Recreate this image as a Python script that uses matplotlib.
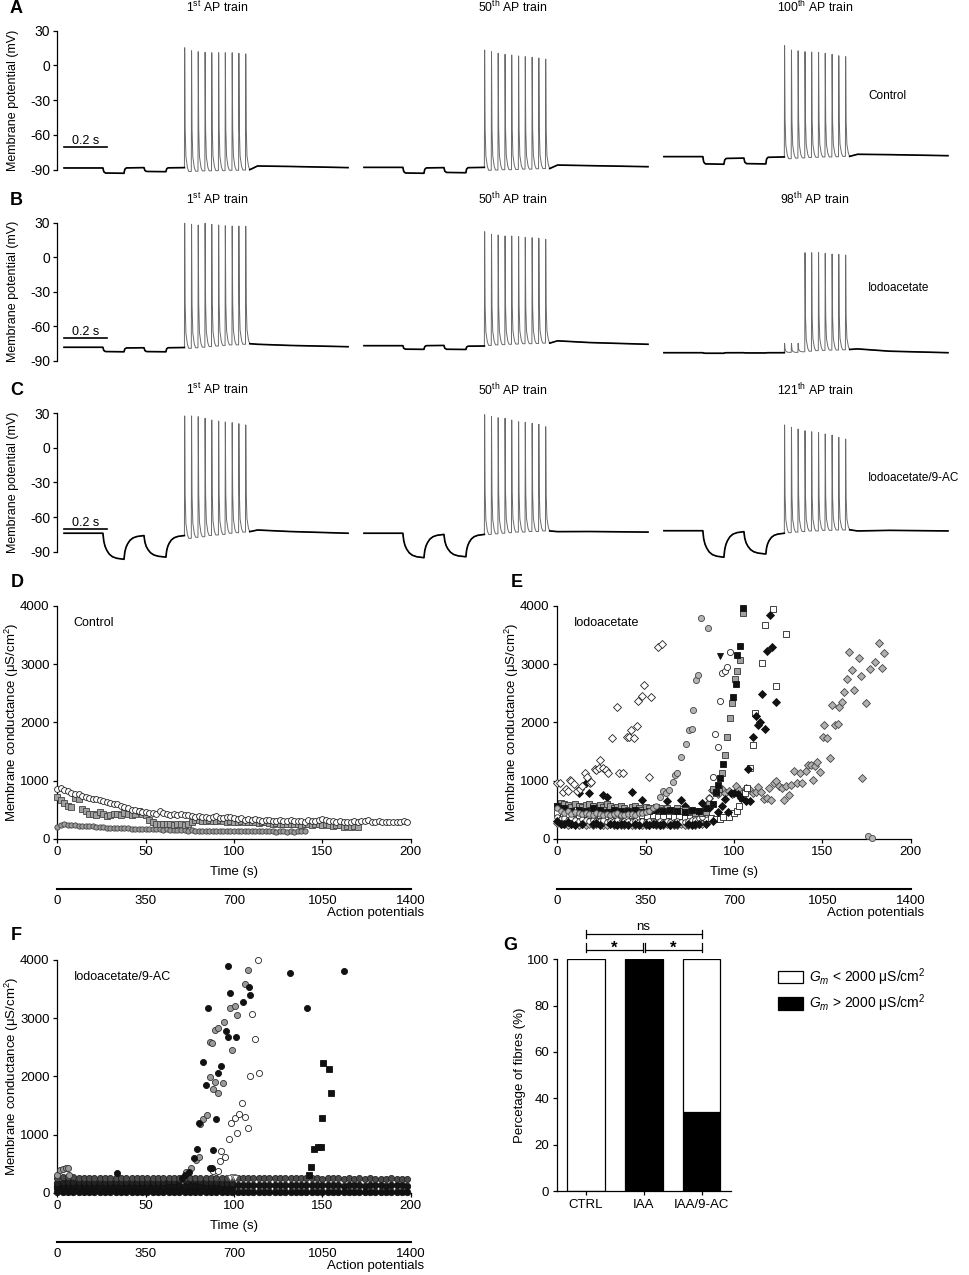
import numpy as np
import matplotlib.pyplot as plt
from matplotlib.patches import Rectangle

plt.rcParams['font.family'] = ['Liberation Sans', 'DejaVu Sans']
plt.rcParams['mathtext.fontset'] = 'custom'
plt.rcParams['mathtext.rm'] = 'Liberation Sans'
plt.rcParams['mathtext.it'] = 'Liberation Sans:italic'
plt.rcParams['axes.unicode_minus'] = False
plt.rcParams['axes.linewidth'] = 0.9
plt.rcParams['xtick.major.width'] = 0.9
plt.rcParams['ytick.major.width'] = 0.9
plt.rcParams['xtick.major.size'] = 3
plt.rcParams['ytick.major.size'] = 3

# ---------------- membrane potential traces (A-C) ----------------
pulse_edges = [0.181, 0.279, 0.372, 0.474]
spike_t = [0.560, 0.592, 0.623, 0.655, 0.686, 0.718, 0.749, 0.781, 0.812, 0.844]
tail_t = [0.90, 1.05, 1.321]
trace_gap = 1.395

A_titles = ['1$^{\\mathrm{st}}$ AP train', '50$^{\\mathrm{th}}$ AP train', '100$^{\\mathrm{th}}$ AP train']
A_levels = [[-88.5, -93.1, -88.2, -91.7, -88.2],
            [-88.0, -93.1, -88.2, -92.6, -88.0],
            [-78.7, -85.3, -80.0, -85.0, -79.0]]
A_peaks = [[15.3, 12.7, 11.9, 11.3, 11.0, 11.0, 11.0, 11.0, 10.5, 10.0],
           [13.3, 11.9, 10.5, 9.6, 9.0, 8.2, 7.6, 7.0, 6.4, 5.5],
           [17.1, 13.3, 12.7, 11.9, 11.6, 11.3, 10.5, 9.6, 8.4, 7.6]]
A_troughs = [[-91.5, -91.3, -91.0, -91.0, -90.8, -90.8, -90.5, -90.5, -90.3, -90.0],
             [-90.5, -90.3, -90.0, -90.0, -89.8, -89.5, -89.5, -89.2, -89.0, -89.0],
             [-80.5, -80.0, -79.8, -79.5, -79.3, -79.0, -79.0, -78.8, -78.5, -78.5]]
A_tail = [[-86.8, -87.2, -88.2], [-86.0, -86.5, -87.4], [-76.7, -77.0, -77.9]]

B_titles = ['1$^{\\mathrm{st}}$ AP train', '50$^{\\mathrm{th}}$ AP train', '98$^{\\mathrm{th}}$ AP train']
B_levels = [[-78.1, -82.0, -78.5, -82.0, -78.3],
            [-76.7, -79.9, -76.5, -80.0, -77.0],
            [-82.8, -83.3, -82.8, -83.0, -82.8]]
B_peaks = [[29.5, 28.6, 28.0, 29.5, 28.6, 28.0, 27.4, 27.1, 27.1, 26.9],
           [22.2, 19.9, 19.3, 18.5, 18.5, 17.9, 17.3, 17.0, 16.5, 15.6],
           [-74.7, -74.7, -74.7, 4.0, 4.0, 4.0, 3.4, 2.8, 2.6, 2.0]]
B_troughs = [[-79.0, -78.5, -78.0, -77.5, -77.0, -76.5, -76.0, -76.0, -75.5, -75.0],
             [-76.5, -76.0, -75.8, -75.5, -75.3, -75.0, -75.0, -74.8, -74.5, -74.5],
             [-82.5, -82.5, -82.0, -81.5, -81.0, -80.8, -80.5, -80.5, -80.3, -80.0]]
B_tail = [[-75.5, -76.5, -77.6], [-72.5, -74.0, -75.5], [-79.5, -81.5, -82.8]]

C_titles = ['1$^{\\mathrm{st}}$ AP train', '50$^{\\mathrm{th}}$ AP train', '121$^{\\mathrm{th}}$ AP train']
C_levels = [[-74.0, -96.6, -76.0, -94.7, -76.0],
            [-74.0, -95.2, -75.0, -94.4, -75.0],
            [-71.8, -94.8, -72.6, -92.0, -74.0]]
C_peaks = [[27.7, 27.7, 27.1, 25.7, 24.2, 23.3, 22.5, 21.9, 21.0, 19.9],
           [28.8, 27.1, 26.2, 25.7, 24.2, 22.7, 22.2, 21.3, 20.5, 18.4],
           [19.9, 17.9, 16.4, 14.9, 14.0, 13.2, 12.1, 11.2, 9.2, 7.7]]
C_troughs = [[-78.4, -77.5, -77.0, -76.0, -75.5, -75.0, -74.0, -73.5, -73.0, -72.6],
             [-75.0, -74.5, -74.0, -73.5, -73.0, -73.0, -72.5, -72.5, -72.0, -72.0],
             [-73.5, -73.0, -72.5, -72.0, -72.0, -71.5, -71.5, -71.2, -71.2, -71.0]]
C_tail = [[-71.2, -72.5, -74.0], [-72.6, -72.5, -73.0], [-72.0, -71.5, -72.0]]

# relaxation shape of the hyperpolarising pulses (fraction of step, fraction of pulse)
fast_f = [0.0, 0.7, 0.95, 1.0]
fast_d = [0.0, 0.04, 0.12, 1.0]
slow_f = [0.0, 0.3, 0.5, 0.65, 0.8, 0.9, 0.96, 1.0]
slow_d = [0.0, 0.04, 0.1, 0.18, 0.3, 0.45, 0.65, 1.0]

# ---------------- membrane conductance, control (D) ----------------
D_open = [850, 865, 840, 820, 790, 770, 760, 730, 720, 700,
          680, 690, 660, 640, 630, 610, 590, 600, 560, 540,
          520, 500, 490, 470, 460, 460, 450, 440, 430, 470,
          450, 420, 400, 420, 410, 430, 410, 400, 390, 380,
          390, 370, 380, 360, 370, 390, 360, 350, 370, 380,
          360, 340, 350, 330, 340, 320, 340, 330, 310, 320,
          330, 300, 310, 320, 300, 310, 320, 300, 310, 300,
          290, 320, 300, 310, 330, 340, 320, 300, 310, 290,
          300, 290, 280, 290, 300, 280, 300, 310, 320, 290,
          280, 300, 290, 280, 290, 280, 290, 280, 310, 280]
D_square = [720, 660, 610, 560, 540, 700, 680, 510, 470, 420,
            430, 400, 460, 420, 390, 400, 420, 430, 400, 440,
            420, 410, 430, 470, 420, 400, 330, 290, 260, 250,
            250, 260, 250, 240, 250, 260, 240, 250, 290, 320,
            330, 300, 310, 320, 300, 310, 320, 300, 290, 300,
            290, 280, 300, 290, 280, 290, 280, 270, 290, 280,
            270, 260, 270, 260, 250, 260, 250, 260, 250, 240,
            260, 250, 240, 250, 260, 240, 250, 230, 220, 240,
            230, 200, 220, 200, 210, 200]
D_gray = [200, 230, 250, 240, 230, 230, 220, 220, 210, 210,
          210, 200, 200, 200, 190, 190, 190, 190, 180, 180,
          180, 170, 170, 170, 170, 160, 160, 160, 160, 160,
          150, 160, 150, 150, 150, 150, 150, 140, 150, 140,
          140, 140, 140, 140, 140, 140, 130, 130, 130, 140,
          130, 130, 130, 130, 130, 130, 130, 130, 130, 130,
          130, 130, 120, 130, 140, 120, 130, 120, 140, 140,
          130]
D_dt = 2.0

# ---------------- membrane conductance, iodoacetate (E) ----------------
E_dt = 2.0
E1_t = [0, 1.5, 3, 4.8, 6.1, 7.2, 8, 9.4, 11.3, 12.8, 14.1, 15.6, 16.9, 18.5, 19.3, 21.2, 22, 23.5, 24.4, 25.8,
        27.3, 28.8, 30.8, 33.6, 35.1, 37.4, 39.3, 40.7, 41.9, 43.4, 44.9, 45.8, 47.7, 49.1, 52.1, 53.0, 57.2, 59.1]
E1_v = [950, 960, 800, 850, 820, 1010, 990, 940, 820, 860, 910, 1135, 1066, 963, 980, 1190, 1181, 1210, 1350, 1210,
        1180, 1130, 1736, 2269, 1135, 1124, 1753, 1750, 1868, 1737, 1937, 2367, 2453, 2642, 1066, 2441, 3300, 3347]

E2_low = [520, 480, 450, 470, 430, 460, 440, 420, 450, 430,
          410, 440, 420, 400, 430, 410, 420, 440, 410, 400,
          430, 420, 410, 440, 450, 460, 480, 520, 560]
E2_t = [58.1, 60.0, 61.5, 63.4, 65.3, 66.6, 67.5, 69.8, 72.6, 74.5, 76.0, 77.0, 78.3, 79.8, 81.1, 85.5, 176.0, 178.0]
E2_v = [722, 825, 791, 842, 980, 1095, 1124, 1410, 1623, 1870, 1880, 2212, 2728, 2814, 3788, 3617, 46, 7]

E3_low = [380, 340, 360, 320, 350, 330, 310, 340, 320, 300,
          330, 310, 300, 320, 290, 310, 300, 320, 290, 300,
          310, 290, 300, 280, 300, 290, 310, 290, 280, 300,
          290, 300, 280, 290, 300, 280, 290, 300, 320, 330,
          350, 380, 420, 700]
E3_t = [88.0, 89.2, 91.1, 92.0, 93.4, 95.0, 96.3, 97.5]
E3_v = [1066, 1800, 1582, 2367, 2843, 2877, 2957, 3204]

E4_low = [300, 260, 250, 280, 250, 240, 780, 260, 950, 780,
          250, 270, 240, 750, 720, 250, 260, 240, 250, 260,
          240, 800, 250, 240, 660, 250, 240, 260, 250, 240,
          250, 650, 240, 250, 260, 670, 560, 250, 240, 260,
          250, 610, 260, 520, 300]
E4_t = [91.1, 93.0, 94.9, 96.8, 98.1, 100.0, 102.0, 104.0, 106.6, 107.7, 109.0,
        110.6, 112.2, 113.3, 114.6, 116.1, 117.6, 118.8, 120.2, 121.6, 124.0]
E4_v = [464, 560, 677, 464, 791, 780, 760, 700, 648, 1193, 648,
        1753, 2109, 1950, 2010, 2487, 1890, 3221, 3840, 3290, 2355]

E5_low = [560, 520, 480, 500, 470, 520, 490, 460, 500, 480, 470, 490,
          460, 480, 500, 470, 490, 480, 460, 500, 480, 520, 600]
E5_dt = 4.0
E5_t = [90.0, 91.0, 92.0, 93.5, 99.2, 100.9, 101.9, 103.4, 105.3]
E5_v = [800, 923, 1038, 1279, 2441, 2659, 3158, 3312, 3960]

E6_low = [560, 620, 600, 580, 550, 600, 560, 540, 580, 600,
          560, 530, 580, 550, 600, 560, 520, 540, 560, 530,
          500, 540, 560, 520, 500, 550, 530, 500, 540, 520,
          500, 520, 480, 500, 520, 480, 500, 460, 480, 450,
          470, 440, 460, 600]
E6_t = [88.0, 90.0, 91.5, 93.4, 94.8, 96.1, 97.6, 99.1, 100.8, 101.8, 103.3, 105.2]
E6_v = [850, 780, 860, 1135, 1439, 1753, 2069, 2327, 2740, 2883, 3072, 3885]

E7_low = [450, 430, 420, 440, 410, 430, 400, 420, 410, 390,
          420, 400, 410, 390, 400, 380, 410, 390, 400, 380,
          390, 400, 380, 390, 370, 380, 390, 370, 360, 350, 340]
E7_dt = 3.0
E7_t = [92.0, 94.0, 97.3, 100.1, 101.5, 102.9, 104.5, 106.0, 107.2, 109.0, 110.6, 112.0,
        116.1, 117.3, 121.8, 124.0, 129.7]
E7_v = [344, 378, 368, 436, 481, 562, 700, 780, 866, 1210, 1610, 2166,
        3026, 3674, 3948, 2630, 3513]

E8_low = [270, 250, 260, 240, 250, 260, 240, 250, 230, 250,
          240, 260, 250, 240, 230, 250, 240, 250, 230, 240,
          250, 240, 230, 250, 240, 230, 240, 250, 240, 230,
          240, 250, 240, 230, 240, 250, 240, 230, 250, 240,
          260, 250, 270]
E8_t = [86.0, 87.4, 89.0, 91.0, 93.0, 95.0, 97.0, 99.0, 101.0, 103.0,
        105.0, 107.0, 109.0, 111.0, 112.2, 113.5, 115.4, 117.0, 118.7, 120.0,
        121.0, 122.5, 124.0, 125.5, 127.0, 128.2, 129.5, 131.0, 132.5, 133.9,
        135.5, 137.6, 138.6, 140.9, 142.0, 143.3, 144.6, 146.0, 147.1, 148.4,
        150.3, 151.2, 152.7, 154.6, 155.3, 157.2, 158.7, 159.6, 160.9, 162.4,
        163.9, 165.0, 166.9, 167.9, 170.5, 171.7, 172.6, 174.9, 177.0, 179.6,
        182.0, 183.6, 185.0]
E8_v = [700, 840, 800, 760, 850, 780, 820, 760, 906, 837,
        808, 870, 830, 780, 808, 894, 808, 680, 694, 880,
        665, 952, 1000, 900, 880, 665, 900, 751, 920, 1164,
        950, 1124, 952, 1160, 1270, 1267, 1009, 1250, 1324, 1152,
        1750, 1950, 1726, 1382, 2298, 1950, 1966, 2260, 2355, 2527,
        2740, 3209, 2900, 2556, 3111, 2797, 1050, 2327, 2917, 3043,
        3358, 2930, 3187]
E9_t = [92.1]
E9_v = [3146]

# ---------------- membrane conductance, iodoacetate/9-AC (F) ----------------
F_dt = 3.0
F_band1 = [255, 265, 275, 270, 260, 255, 250, 260, 255, 250,
           260, 255, 250, 255, 260, 250, 255, 260, 250, 255,
           260, 250, 255, 250, 260, 255, 250, 255, 260, 250,
           255, 250, 260, 255, 250, 255, 250, 245, 250, 255,
           250, 245, 250, 255, 250, 245, 250, 245, 250, 245,
           240, 245, 250, 245, 240, 245, 240, 245, 240, 245,
           240, 235, 240, 245, 240, 235, 230]
F_band2 = [170, 180, 190, 185, 180, 190, 185, 180, 190, 185,
           180, 185, 190, 185, 180, 185, 190, 185, 180, 185,
           190, 195, 200, 210, 220, 230, 210, 200, 190, 185,
           180, 175, 170, 165]
F_band3 = [120, 125, 130, 125, 120, 125, 130, 125, 120, 125,
           130, 125, 120, 125, 130, 125, 120, 125, 130, 125,
           120, 125, 130, 125, 120, 125, 130, 125, 120, 125,
           130, 135, 130, 125, 130, 135, 130, 125, 130, 135,
           130, 125, 130, 135, 130, 125, 130, 125, 130, 125,
           130, 125, 130, 125, 120, 125, 130, 125, 120, 125,
           130, 125, 120, 125, 130, 125, 120]
F_band4 = [80, 85, 75, 80, 85, 80, 75, 80, 85, 80,
           75, 80, 85, 80, 75, 80, 85, 80, 75, 80,
           85, 80, 75, 80, 85, 80, 75, 80, 85, 80,
           75, 80, 85, 80]
F_band5 = [45, 50, 45, 40, 45, 50, 40, 45, 50, 45,
           45, 50, 45, 40, 45, 50, 40, 45, 50, 45,
           45, 50, 45, 40, 45, 50, 40, 45, 50, 45,
           45, 50, 45, 40, 45, 50, 40, 45, 50, 45,
           45, 50, 45, 40, 45, 50, 40, 45, 50, 45,
           45, 50, 45, 40, 45, 50, 40, 45, 50, 45,
           40, 45, 50, 45, 40, 45, 50]
F_band6 = [15, 20, 15, 10, 15, 20, 15, 10, 15, 20,
           15, 20, 15, 10, 15, 20, 15, 10, 15, 20,
           15, 20, 15, 10, 15, 20, 15, 10, 15, 20,
           15, 20, 15, 10, 15, 20, 15, 10, 15, 20,
           15, 20, 15, 10, 15, 20, 15, 10, 15, 20,
           15, 20, 15, 10, 15, 20, 15, 10, 15, 20,
           15, 10, 15, 20, 15, 10, 15]
F_black_t = [33.6, 70.5, 72.5, 74.8, 77.5, 78.9, 80.2, 82.6, 83.9, 85.5, 86.2, 87.3, 88.3, 89.8, 91.1,
             92.4, 95.2, 96.8, 96.8, 97.7, 100.9, 104.9, 108.3, 109.0, 131.7, 141.5, 162.4]
F_black_v = [340, 250, 300, 360, 602, 746, 1193, 2252, 1851, 3170, 430, 430, 734, 1262, 2052,
             2178, 2780, 2682, 3897, 3438, 2682, 3283, 3530, 3400, 3782, 3180, 3816]
F_gray_t = [0, 1.5, 3.3, 5.0, 6.3, 6.9, 72.7, 75.5, 78.6, 80.3, 80.5, 82.4, 84.6, 86.5, 86.5,
            87.5, 88.0, 89.3, 89.5, 90.8, 90.8, 93.6, 94.6, 97.5, 99.0, 100.7, 101.9, 106.4, 107.9]
F_gray_v = [300, 390, 410, 420, 420, 300, 361, 430, 562, 620, 1180, 1270, 1340, 1994, 2595,
            2570, 1777, 1903, 2797, 1719, 2830, 1880, 2940, 3170, 2453, 3210, 3060, 3583, 3828]
F_open_t = [88.0, 90.8, 92.2, 92.7, 95.0, 97.4, 98.4, 100.3, 101.9, 102.9, 104.4, 106.3, 107.8,
            108.8, 110.2, 112.1, 113.4, 114.4]
F_open_v = [378, 378, 550, 722, 608, 918, 1193, 1279, 1031, 1353, 1547, 1296, 1107,
            2006, 3067, 2642, 4000, 2052]
F_sq_t = [142.3, 143.6, 145.3, 147.7, 149.0, 149.6, 150.5, 153.5, 154.8]
F_sq_v = [304, 436, 756, 780, 780, 1289, 2224, 2126, 1719]
F_tri_t = [97.8, 99.2, 100.6]
F_tri_v = [250, 265, 250]

# ---------------- fibre percentages (G) ----------------
G_groups = ['CTRL', 'IAA', 'IAA/9-AC']
G_low = [100, 0, 66]
G_high = [0, 100, 34]

W, H = 969, 1275
fig = plt.figure(figsize=(W / 100, H / 100), dpi=100)


def px_axes(x0, x1, y0, y1):
    return fig.add_axes([x0 / W, 1 - y1 / H, (x1 - x0) / W, (y1 - y0) / H])


def ftext(x, y, s, **kw):
    kw.setdefault('va', 'center')
    fig.text(x / W, 1 - y / H, s, **kw)


def build_trace(levels, peaks, troughs, tail, f_shape, d_shape):
    t, v = [0.0], [levels[0]]
    ends = pulse_edges[1:] + [spike_t[0]]
    for i, e in enumerate(pulse_edges):
        span = ends[i] - e
        t.append(e)
        v.append(levels[i])
        for f, d in zip(f_shape[1:], d_shape[1:]):
            t.append(e + d * span)
            v.append(levels[i] + f * (levels[i + 1] - levels[i]))
    n_pre = len(t)
    for i, ts in enumerate(spike_t):
        pk, tr = peaks[i], troughs[i]
        t += [ts + 0.0012, ts + 0.0035, ts + 0.007, ts + 0.014, ts + 0.02]
        v += [pk, tr + 0.35 * (pk - tr), tr + 0.12 * (pk - tr), tr + 0.03 * (pk - tr), tr]
        if i + 1 < len(spike_t):
            t.append(spike_t[i + 1])
            v.append(tr)
    n_post = len(t) - 1
    t += tail_t
    v += tail
    return np.array(t), np.array(v), n_pre, n_post


rows = [('A', 30.7, 169.7, A_titles, A_levels, A_peaks, A_troughs, A_tail, fast_f, fast_d, 'Control'),
        ('B', 222.7, 361.0, B_titles, B_levels, B_peaks, B_troughs, B_tail, fast_f, fast_d, 'Iodoacetate'),
        ('C', 413.3, 551.7, C_titles, C_levels, C_peaks, C_troughs, C_tail, slow_f, slow_d, 'Iodoacetate/9-AC')]

for letter, y30, y90, titles, levels, peaks, troughs, tails, fs, ds, cond in rows:
    s = (y90 - y30) / 120
    ax = px_axes(57.3, 960, y30 - 5 * s, y90 + 10 * s)
    ax.set_xlim(-0.0312, 4.167)
    ax.set_ylim(-100, 35)
    for side in ['top', 'right', 'bottom']:
        ax.spines[side].set_visible(False)
    ax.spines['left'].set_bounds(-90, 30)
    ax.set_xticks([])
    ax.set_yticks([-90, -60, -30, 0, 30])
    ax.tick_params(axis='y', labelsize=10, pad=2)
    ax.patch.set_visible(False)
    for k in range(3):
        off = k * trace_gap
        tt, vv, n_pre, n_post = build_trace(levels[k], peaks[k], troughs[k], tails[k], fs, ds)
        ax.plot(tt + off, vv, color='#6a6a6a', lw=0.7, solid_joinstyle='round')
        ax.plot(tt[:n_pre] + off, vv[:n_pre], color='black', lw=1.2)
        ax.plot(tt[n_post:] + off, vv[n_post:], color='black', lw=1.2)
    ax.plot([0, 0.2], [-70, -70], color='black', lw=1.2)
    ax.text(0.1, -65, '0.2 s', ha='center', va='center', fontsize=9)
    ty = y30 - 23.5
    for k, x in enumerate([217, 513, 815]):
        ftext(x, ty, titles[k], ha='center', fontsize=8.8)
    ftext(10, ty + 1, letter, fontsize=13, fontweight='bold')
    ftext(13, (y30 + y90) / 2, 'Membrane potential (mV)', rotation=90, ha='center', fontsize=9)
    ftext(868, y30 + 65, cond, fontsize=8.5)


def cond_panel(x0, x1, ytop, ybot, ap_y, label, letter):
    ax = px_axes(x0, x1, ytop, ybot)
    ax.set_xlim(0, 200)
    ax.set_ylim(0, 4000)
    ax.spines['top'].set_visible(False)
    ax.spines['right'].set_visible(False)
    ax.set_xticks([0, 50, 100, 150, 200])
    ax.set_yticks([0, 1000, 2000, 3000, 4000])
    ax.tick_params(labelsize=9.5, pad=2.5)
    ax.patch.set_visible(False)
    ap = px_axes(x0, x1, ap_y - 1, ap_y)
    ap.set_xlim(0, 1400)
    ap.set_xticks([0, 350, 700, 1050, 1400])
    ap.set_yticks([])
    ap.tick_params(axis='x', length=0, labelsize=9.5, pad=4)
    for side in ['top', 'right', 'left']:
        ap.spines[side].set_visible(False)
    ap.spines['bottom'].set_linewidth(1.5)
    ap.patch.set_visible(False)
    ftext((x0 + x1) / 2, ybot + 33, 'Time (s)', ha='center', fontsize=9.5)
    ftext(x1 + 13.5, ap_y + 24, 'Action potentials', ha='right', fontsize=9.5)
    ftext(x0 + 16.5, ytop + 17, label, fontsize=9)
    ftext(x0 - 45, (ytop + ybot) / 2, 'Membrane conductance (μS/cm$^2$)', rotation=90,
          ha='center', fontsize=9.5)
    ftext(x0 - 47, ytop - 24, letter, fontsize=13, fontweight='bold')
    return ax


def dots(ax, t, v, marker, fc, ms=4.0, ec='#222222'):
    ax.plot(t, v, linestyle='none', marker=marker, ms=ms, mfc=fc, mec=ec, mew=0.6,
            clip_on=False, zorder=3)


def steps(vals, dt):
    return np.arange(len(vals)) * dt


# D
axd = cond_panel(57.3, 410.7, 606, 838.7, 889, 'Control', 'D')
dots(axd, steps(D_gray, D_dt), D_gray, 'o', '#9a9a9a', ms=3.8, ec='#444444')
dots(axd, steps(D_square, D_dt), D_square, 's', '#a0a0a0', ms=3.8, ec='#444444')
dots(axd, steps(D_open, D_dt), D_open, 'o', 'white', ms=4.2)

# E
axe = cond_panel(557.3, 910.7, 606, 838.7, 889, 'Iodoacetate', 'E')
dots(axe, steps(E8_low, E_dt), E8_low, 'D', '#bbbbbb', ms=4.0, ec='#444444')
dots(axe, E8_t, E8_v, 'D', '#b0b0b0', ms=4.2, ec='#444444')
dots(axe, steps(E7_low, E7_dt), E7_low, 's', 'white', ms=4.0)
dots(axe, E7_t, E7_v, 's', 'white', ms=4.2)
dots(axe, steps(E3_low, E_dt), E3_low, 'o', 'white', ms=4.0)
dots(axe, E3_t, E3_v, 'o', 'white', ms=4.4)
dots(axe, steps(E4_low, E_dt), E4_low, 'D', '#111111', ms=4.0, ec='#111111')
dots(axe, E4_t, E4_v, 'D', '#111111', ms=4.2, ec='#111111')
dots(axe, steps(E6_low, E_dt), E6_low, 's', '#a0a0a0', ms=4.0, ec='#333333')
dots(axe, E6_t, E6_v, 's', '#a0a0a0', ms=4.4, ec='#333333')
dots(axe, steps(E5_low, E5_dt), E5_low, 's', '#111111', ms=4.0, ec='#111111')
dots(axe, E5_t, E5_v, 's', '#111111', ms=4.4, ec='#111111')
dots(axe, steps(E2_low, E_dt), E2_low, 'o', '#b5b5b5', ms=4.0, ec='#444444')
dots(axe, E2_t, E2_v, 'o', '#b5b5b5', ms=4.4, ec='#444444')
dots(axe, E1_t, E1_v, 'D', 'white', ms=4.4)
dots(axe, E9_t, E9_v, 'v', '#111111', ms=4.6, ec='#111111')

# F
axf = cond_panel(57.3, 410.7, 960, 1192.7, 1242, 'Iodoacetate/9-AC', 'F')
dots(axf, steps(F_band5, F_dt), F_band5, 'o', 'white', ms=3.4, ec='#666666')
dots(axf, steps(F_band6, F_dt), F_band6, 'o', '#111111', ms=4.6, ec='#111111')
dots(axf, steps(F_band4, F_dt), F_band4, 'o', '#111111', ms=4.6, ec='#111111')
dots(axf, steps(F_band3, F_dt), F_band3, 'o', '#151515', ms=4.6, ec='#111111')
dots(axf, steps(F_band2, F_dt), F_band2, 'o', '#222222', ms=4.6, ec='#111111')
dots(axf, steps(F_band1, F_dt), F_band1, 'o', '#4a4a4a', ms=4.4, ec='#222222')
dots(axf, F_tri_t, F_tri_v, 'v', 'white', ms=4.6, ec='#555555')
dots(axf, F_gray_t, F_gray_v, 'o', '#9a9a9a', ms=4.4, ec='#333333')
dots(axf, F_open_t, F_open_v, 'o', 'white', ms=4.4)
dots(axf, F_black_t, F_black_v, 'o', '#111111', ms=4.4, ec='#111111')
dots(axf, F_sq_t, F_sq_v, 's', '#111111', ms=4.4, ec='#111111')

# G
axg = px_axes(556.7, 730.7, 959.3, 1191)
xg = np.arange(len(G_groups))
axg.set_xlim(-0.507, 2.503)
axg.set_ylim(0, 100)
axg.bar(xg, G_high, width=0.652, color='black', edgecolor='black', lw=0.9)
axg.bar(xg, G_low, bottom=G_high, width=0.652, color='white', edgecolor='black', lw=0.9)
axg.spines['top'].set_visible(False)
axg.spines['right'].set_visible(False)
axg.set_xticks(xg)
axg.set_xticklabels(G_groups)
axg.set_yticks([0, 20, 40, 60, 80, 100])
axg.tick_params(labelsize=9.5, pad=2.5)
axg.patch.set_visible(False)
br = dict(color='black', lw=0.9, clip_on=False)
axg.plot([0, 0, 0.985, 0.985], [106.9, 104.0, 104.0, 106.9], **br)
axg.plot([0, 0], [104.0, 103.2], **br)
axg.plot([1.02, 1.02, 2.0, 2.0], [106.9, 104.0, 104.0, 106.9], **br)
axg.plot([0.985, 0.985], [104.0, 103.2], **br)
axg.plot([1.02, 1.02], [104.0, 103.2], **br)
axg.plot([2.0, 2.0], [104.0, 103.2], **br)
axg.plot([0, 0, 2.0, 2.0], [112.7, 110.9, 110.9, 112.7], **br)
axg.plot([0, 0], [110.9, 109.1], **br)
axg.plot([2.0, 2.0], [110.9, 109.1], **br)
axg.text(0.484, 104.6, '*', ha='center', va='center', fontsize=12, fontweight='bold')
axg.text(1.51, 104.6, '*', ha='center', va='center', fontsize=12, fontweight='bold')
axg.text(0.99, 114.0, 'ns', ha='center', va='center', fontsize=9.5)
ftext(520, 1075, 'Percetage of fibres (%)', rotation=90, ha='center', fontsize=9.5)
ftext(503, 945, 'G', fontsize=13, fontweight='bold')

for y0, fc, sign in [(970.7, 'white', '<'), (997.0, 'black', '>')]:
    fig.add_artist(Rectangle((778 / W, 1 - (y0 + 12.6) / H), 25 / W, 12.6 / H,
                             transform=fig.transFigure, facecolor=fc, edgecolor='black', lw=0.9))
    ftext(809, y0 + 6.3, '$G_m$ %s 2000 μS/cm$^2$' % sign, fontsize=10)

fig.savefig('out.png', dpi=100)
